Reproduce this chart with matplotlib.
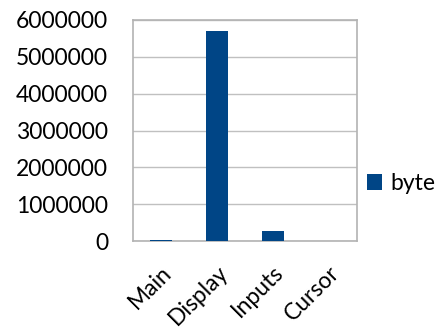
import matplotlib
matplotlib.use("Agg")
import matplotlib.pyplot as plt

categories = ["Main", "Display", "Inputs", "Cursor"]
byte_values = [35000, 5700000, 270000, 5000]

plt.rcParams["font.family"] = ["Lato", "DejaVu Sans"]

fig = plt.figure(figsize=(4.37, 3.31), dpi=100)
ax = fig.add_axes([133 / 437, 1 - 241 / 331, 224 / 437, 221 / 331])

x = range(len(categories))
ax.bar(x, byte_values, width=0.39, color="#004586", label="byte", zorder=3)

ax.set_xlim(-0.5, 3.5)
ax.set_ylim(0, 6000000)
ax.set_yticks(range(0, 6000001, 1000000))
ax.set_yticklabels([str(v) for v in range(0, 6000001, 1000000)], fontsize=16.5)
ax.set_xticks(list(x))
ax.set_xticklabels(categories, rotation=45, ha="right", rotation_mode="anchor",
                   fontsize=16.5)
ax.tick_params(axis="y", length=0, pad=18)
ax.tick_params(axis="x", length=0, pad=15)
ax.grid(axis="y", color="#c0c0c0", linewidth=1, zorder=0)
for s in ax.spines.values():
    s.set_color("#b3b3b3")
    s.set_linewidth(1.2)

ax.legend(loc="center left", bbox_to_anchor=(1.045, 0.26), frameon=False,
          fontsize=16.5, handlelength=0.65, handleheight=0.65, handletextpad=0.35,
          borderaxespad=0, borderpad=0)

fig.savefig("out.png", dpi=100)
